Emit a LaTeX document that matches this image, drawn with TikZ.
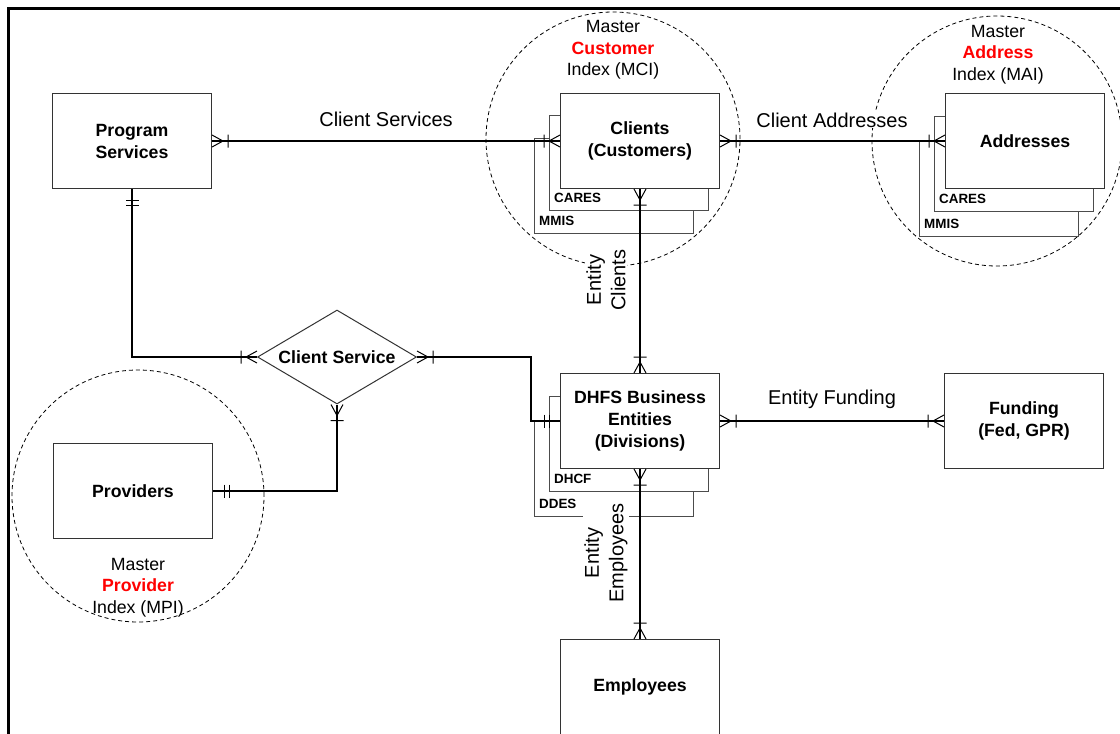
\documentclass[tikz,border=0pt]{standalone}
\usepackage{fontspec}
\setmainfont{Liberation Sans}
\usetikzlibrary{shapes.geometric,decorations.markings}

\tikzset{
  entity/.style={draw=black!80, fill=white, line width=1pt, minimum width=159pt,
    minimum height=95pt, inner sep=2pt, align=center,
    font=\bfseries\fontsize{17.7}{22}\selectfont},
  copybox/.style={entity, draw=black!70},
  tag/.style={anchor=south west, inner xsep=5pt, inner ysep=8pt,
    font=\bfseries\fontsize{13.4}{16}\selectfont},
  index/.style={draw, circle, dash pattern=on 4pt off 3pt, line width=0.8pt,
    minimum size=#1, inner sep=0pt},
  indexlabel/.style={align=center, font=\fontsize{17.7}{21.5}\selectfont},
  rel/.style={line width=1.4pt},
  rellabel/.style={fill=white, inner sep=1pt, align=center,
    font=\fontsize{20}{24.5}\selectfont},
  tipline/.style={line width=1pt},
  % crow's foot plus a bar, and the double bar, at either end of a line
  crow at start/.style={postaction={decorate,decoration={markings,
    mark=at position 0 with {\draw[tipline] (0,-6) -- (11,0) -- (0,6) (16,-6.5) -- (16,6.5);}}}},
  crow at end/.style={postaction={decorate,decoration={markings,
    mark=at position 1 with {\draw[tipline] (0,-6) -- (-11,0) -- (0,6) (-16,-6.5) -- (-16,6.5);}}}},
  bars at start/.style={postaction={decorate,decoration={markings,
    mark=at position 0 with {\draw[tipline] (11,-6.5) -- (11,6.5) (16,-6.5) -- (16,6.5);}}}},
  bars at end/.style={postaction={decorate,decoration={markings,
    mark=at position 1 with {\draw[tipline] (-11,-6.5) -- (-11,6.5) (-16,-6.5) -- (-16,6.5);}}}},
}

\begin{document}
\begin{tikzpicture}[x=1pt,y=-1pt]
\useasboundingbox (0,0) rectangle (1120,734);

% master indexes
\node[index=254pt] (mci) at (613,139) {};
\node[index=250pt] (mai) at (997,141) {};
\node[index=252pt] (mpi) at (138,496) {};
\node[indexlabel] (mcitext) at (613,50) {Master\\\textcolor{red}{\bfseries Customer}\\Index (MCI)};
\node[indexlabel] (maitext) at (998,54.5) {Master\\\textcolor{red}{\bfseries Address}\\Index (MAI)};
\node[indexlabel] (mpitext) at (138,587.5) {Master\\\textcolor{red}{\bfseries Provider}\\Index (MPI)};

% source systems behind the entities
\node[copybox] (climmis) at (614,186) {};
\node[tag] at (climmis.south west) {MMIS};
\node[copybox] (clicares) at (629,163) {};
\node[tag] at (clicares.south west) {CARES};
\node[copybox] (addrmmis) at (999,189) {};
\node[tag] at (addrmmis.south west) {MMIS};
\node[copybox] (addrcares) at (1014,164) {};
\node[tag] at (addrcares.south west) {CARES};
\node[copybox] (ddes) at (614,469) {};
\node[tag] at (ddes.south west) {DDES};
\node[copybox] (dhcf) at (629,444) {};
\node[tag] at (dhcf.south west) {DHCF};

% entities
\node[entity] (prog) at (132,141) {Program\\Services};
\node[entity] (cli) at (640,141) {Clients\\(Customers)};
\node[entity] (addr) at (1025,141) {Addresses};
\node[entity] (dhfs) at (640,421) {DHFS Business\\Entities\\(Divisions)};
\node[entity] (fund) at (1024,421) {Funding\\(Fed, GPR)};
\node[entity] (prov) at (133,491) {Providers};
\node[entity] (emp) at (640,687) {Employees};
\node[entity, shape=diamond, shape aspect=1.69, inner sep=0pt,
  minimum width=159pt, minimum height=94pt] (cs) at (337,357) {Client Service};

% relationships
\coordinate (jog) at (531,421);
\draw[rel, crow at start, crow at end] (prog.east) -- (cli.west);
\draw[rel, crow at start, crow at end] (cli.east) -- (addr.west);
\draw[rel, crow at start, crow at end] (cli.south) -- (dhfs.north);
\draw[rel, crow at start, crow at end] (dhfs.east) -- (fund.west);
\draw[rel, crow at start, crow at end] (dhfs.south) -- (emp.north);
\draw[rel, bars at start, crow at end] (prog.south) |- (cs.west);
\draw[rel, crow at start, bars at end] (cs.east) -| (jog) -- (dhfs.west);
\draw[rel, bars at start, crow at end] (prov.east) -| (cs.south);

\node[rellabel] (csl) at (386,119) {Client Services};
\node[rellabel] (cal) at (832,120) {Client Addresses};
\node[rellabel] (efl) at (832,399) {Entity Funding};
\node[rellabel, rotate=90] (ecl) at (606,280) {Entity\\Clients};
\node[rellabel, rotate=90] (eel) at (606,553) {Entity\\Employees};

% page frame
\draw[line width=3pt] (8.7,8) rectangle (1140,750);
\end{tikzpicture}
\end{document}
